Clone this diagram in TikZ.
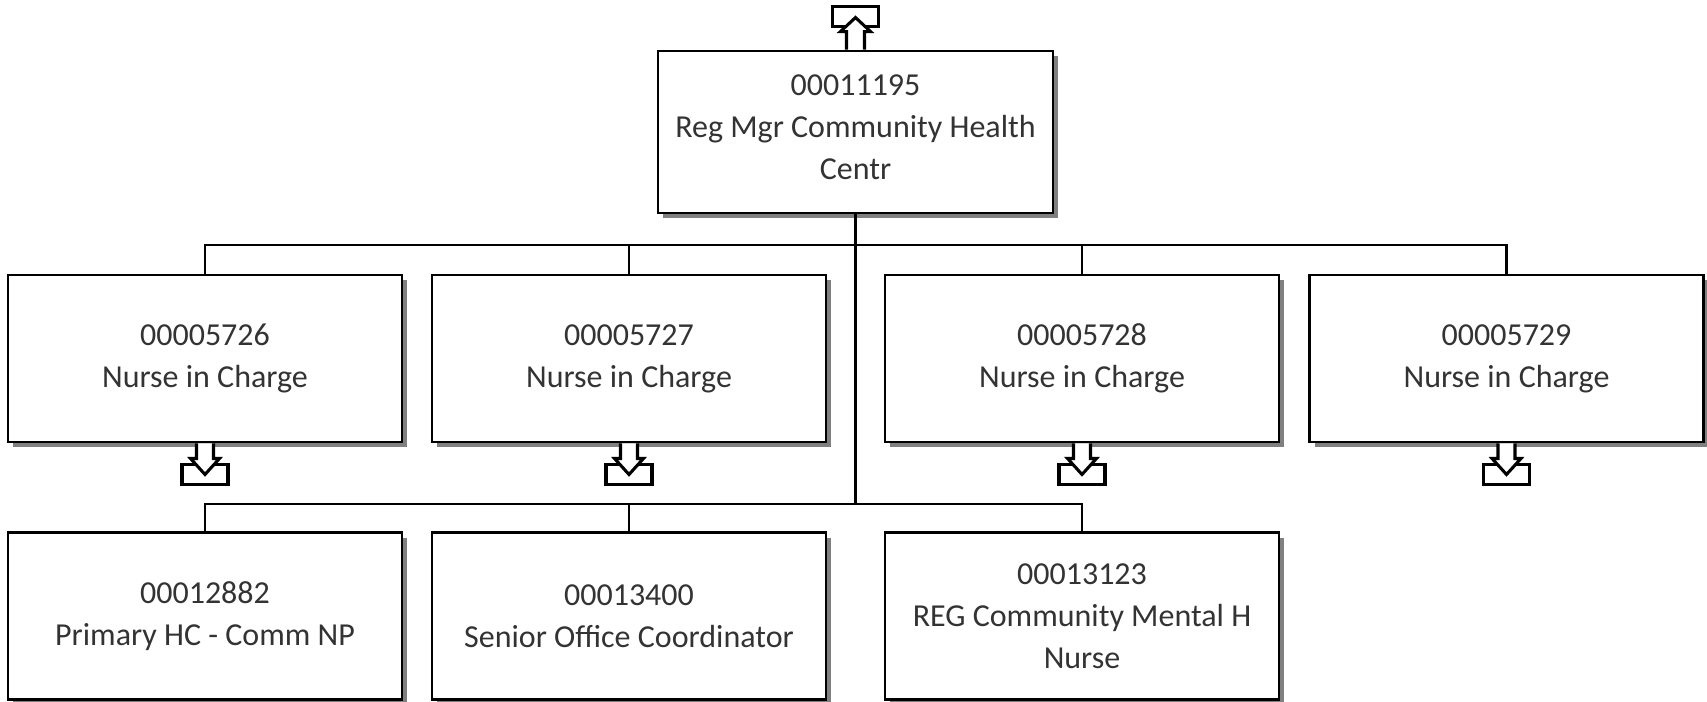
\documentclass[tikz,border=0pt]{standalone}
\usepackage{fontspec}
\setmainfont{Carlito}
\usetikzlibrary{shadows,calc}
\begin{document}
\begin{tikzpicture}[x=0.75pt,y=-0.75pt,
  box/.style={draw=black, line width=2.2pt, fill=white, rectangle, inner sep=0pt,
    minimum width=295.5pt, minimum height=125.25pt, align=center, text=black!80,
    font=\fontsize{24}{31.5}\selectfont,
    drop shadow={shadow xshift=3.9pt, shadow yshift=-3.9pt, fill=black!50, opacity=1}},
  topbox/.style={box, minimum width=296.25pt, minimum height=121.5pt},
  conn/.style={draw=black, line width=1.6pt},
  icon/.style={draw=black, line width=2.3pt, fill=white, line join=miter}]
\useasboundingbox (0,0) rectangle (1707,701);
\fill[white] (0,0) rectangle (1707,701);

\node[topbox] (top) at (855.5,132) {00011195\\Reg Mgr Community Health\\Centr\rule[-7pt]{0pt}{0pt}};

\node[box] (r1a) at (205,358.5) {00005726\\Nurse in Charge};
\node[box] (r1b) at (629,358.5) {00005727\\Nurse in Charge};
\node[box] (r1c) at (1082,358.5) {00005728\\Nurse in Charge};
\node[box] (r1d) at (1506.5,358.5) {00005729\\Nurse in Charge};

\node[box] (r2a) at (205,616) {00012882\\Primary HC - Comm NP};
\node[box] (r2b) at (629,616) {00013400\\Senior Office Coordinator};
\node[box] (r2c) at (1082,616) {00013123\\REG Community Mental H\\Nurse};

\coordinate (busA) at (0,245);
\coordinate (busB) at (0,504);

% connectors
\draw[conn] (top.south) -- (top.south |- busB);
\draw[conn] (r1a.north) -- (r1a.north |- busA) -- (r1d.north |- busA) -- (r1d.north);
\draw[conn] (r1b.north) -- (r1b.north |- busA);
\draw[conn] (r1c.north) -- (r1c.north |- busA);
\draw[conn] (r2a.north) -- (r2a.north |- busB) -- (r2c.north |- busB) -- (r2c.north);
\draw[conn] (r2b.north) -- (r2b.north |- busB);

% up icon above top box
\draw[icon] ($(top.north)+(-23,-43)$) rectangle ($(top.north)+(23,-23)$);
\draw[icon] ($(top.north)+(-9,0)$) -- ($(top.north)+(-9,-18)$) -- ($(top.north)+(-15,-18)$)
  -- ($(top.north)+(0,-32)$) -- ($(top.north)+(15,-18)$) -- ($(top.north)+(9,-18)$)
  -- ($(top.north)+(9,0)$);

% down icons below row 1 boxes
\foreach \b in {r1a,r1b,r1c,r1d}{
  \draw[icon] ($(\b.south)+(-23,21)$) rectangle ($(\b.south)+(23,41)$);
  \draw[icon] ($(\b.south)+(-8.5,0)$) -- ($(\b.south)+(-8.5,15)$) -- ($(\b.south)+(-14.5,15)$)
    -- ($(\b.south)+(0,31)$) -- ($(\b.south)+(14.5,15)$) -- ($(\b.south)+(8.5,15)$)
    -- ($(\b.south)+(8.5,0)$);
}
\end{tikzpicture}
\end{document}
